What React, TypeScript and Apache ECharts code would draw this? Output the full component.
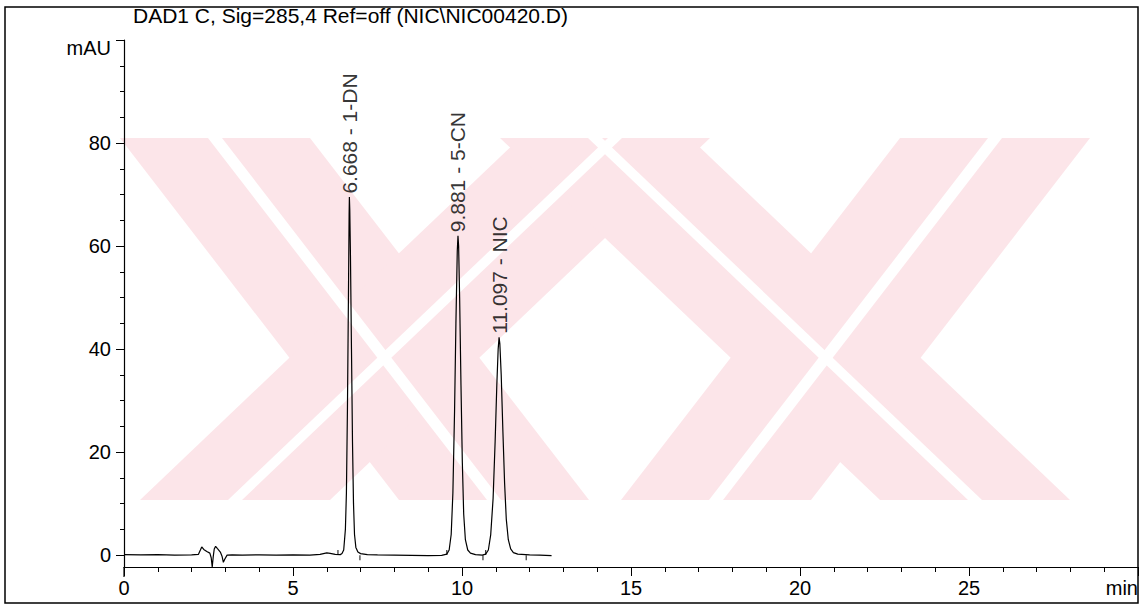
import React, { useEffect, useRef } from "react";
import * as echarts from "echarts";

// ---- data ----
const title = "DAD1 C, Sig=285,4 Ref=off (NIC\\NIC00420.D)";
const yUnit = "mAU";
const xUnit = "min";
const xTickLabels = [0, 5, 10, 15, 20, 25];
const yTickLabels = [0, 20, 40, 60, 80];
const yMinorTicks = [5, 10, 15, 25, 30, 35, 45, 50, 55, 65, 70, 75, 85, 90, 95];

// time (min), absorbance (mAU)
const signal: [number, number][] = [
  [0, 0.1], [0.5, 0.05], [1.0, 0.1], [1.5, 0.0], [2.0, 0.05], [2.2, 0.15],
  [2.26, 1.0], [2.3, 1.6], [2.36, 1.1], [2.45, 0.7], [2.54, 0.4], [2.58, -0.5],
  [2.61, -2.3], [2.64, -0.3], [2.67, 1.2], [2.71, 1.7], [2.76, 1.3], [2.85, 0.6],
  [2.9, -0.2], [2.94, -1.4], [2.98, -0.8], [3.05, 0.0], [3.2, 0.05], [3.5, 0.0],
  [4.0, 0.05], [4.5, 0.0], [5.0, 0.05], [5.5, 0.0], [5.8, 0.15], [6.0, 0.45],
  [6.1, 0.35], [6.25, 0.15], [6.4, 0.1], [6.45, 0.3], [6.5, 1.0], [6.55, 5],
  [6.58, 12], [6.61, 28], [6.64, 50], [6.66, 66], [6.668, 69.5], [6.68, 67],
  [6.7, 58], [6.73, 40], [6.76, 22], [6.79, 10], [6.82, 4], [6.86, 1.5],
  [6.92, 0.6], [7.0, 0.3], [7.2, 0.1], [7.5, 0.05], [8.0, 0.0], [8.5, -0.05],
  [9.0, -0.1], [9.4, -0.05], [9.55, 0.2], [9.62, 1], [9.68, 4], [9.73, 12],
  [9.78, 28], [9.82, 45], [9.86, 59], [9.881, 62], [9.9, 60], [9.93, 50],
  [9.97, 33], [10.01, 18], [10.05, 8], [10.1, 3], [10.17, 1], [10.25, 0.4],
  [10.4, 0.1], [10.6, 0.0], [10.7, 0.2], [10.78, 1], [10.85, 4], [10.92, 11],
  [10.98, 22], [11.03, 33], [11.07, 40], [11.097, 42.3], [11.12, 41], [11.16, 35],
  [11.21, 24], [11.26, 14], [11.31, 7], [11.37, 3], [11.44, 1.2], [11.52, 0.5],
  [11.65, 0.2], [12.0, 0.05], [12.3, 0.0], [12.65, -0.1],
];

const peakTimes = [6.668, 9.881, 11.097];
const peakHeights = [69.5, 62, 42.3];
const peakNames = ["1-DN", "5-CN", "NIC"];

// integration event marks: [time, direction]
const eventTimes = [6.33, 6.98, 9.55, 10.62, 10.7, 11.9];
const eventDirs = [1, -1, 1, -1, 1, -1];

const FONT = "Liberation Sans, Arial, sans-serif";
const PINK = "#fce5e9";
const WM_TOP = 138;
const WM_BOT = 500;

function arm(topA: number, topB: number, botA: number, botB: number) {
  return {
    type: "polygon",
    silent: true,
    shape: { points: [[topA, WM_TOP], [topB, WM_TOP], [botB, WM_BOT], [botA, WM_BOT]] },
    style: { fill: PINK },
  };
}
function stripe(topC: number, botC: number) {
  return {
    type: "polygon",
    silent: true,
    shape: {
      points: [[topC - 7, WM_TOP], [topC + 7, WM_TOP], [botC + 7, WM_BOT], [botC - 7, WM_BOT]],
    },
    style: { fill: "#ffffff" },
  };
}

export default function App() {
  const ref = useRef<HTMLDivElement>(null);
  useEffect(() => {
    if (!ref.current) return;
    const chart = echarts.init(ref.current, null, { renderer: "svg" });
    const yMin = -2.3;
    const yMax = 100;
    chart.setOption({
      animation: false,
      backgroundColor: "#ffffff",
      grid: { left: 124, right: 5, top: 40, bottom: 41 },
      graphic: [
        {
          type: "group",
          z: -10,
          silent: true,
          children: [
            arm(120, 310, 399, 589),
            arm(520, 710, 140, 330),
            arm(500, 690, 880, 1070),
            arm(900, 1090, 621, 811),
            stripe(215, 494),
            stripe(615, 235),
            stripe(595, 975),
            stripe(995, 716),
          ],
        },
        {
          type: "rect",
          z: 100,
          silent: true,
          shape: { x: 5, y: 7, width: 1133, height: 596 },
          style: { fill: "none", stroke: "#000", lineWidth: 1.5 },
        },
        {
          type: "line",
          z: 100,
          silent: true,
          shape: { x1: 124, y1: 567, x2: 124, y2: 577 },
          style: { stroke: "#000", lineWidth: 1.2 },
        },
        {
          type: "text",
          z: 100,
          left: 133,
          top: 5,
          style: { text: title, font: `21px ${FONT}`, fill: "#000" },
        },
      ],
      xAxis: {
        type: "value",
        min: 0,
        max: 30,
        interval: 5,
        axisLine: { show: true, onZero: false, lineStyle: { color: "#000", width: 1.2 } },
        axisTick: { show: true, inside: false, length: 9, lineStyle: { color: "#000" } },
        minorTick: { show: true, splitNumber: 5, length: 5, lineStyle: { color: "#000" } },
        splitLine: { show: false },
        axisLabel: {
          color: "#000",
          fontFamily: FONT,
          fontSize: 20,
          margin: 11,
          alignMaxLabel: "right",
          formatter: (v: number) => (v === 30 ? xUnit : xTickLabels.includes(v) ? String(v) : ""),
        },
      },
      yAxis: [
        {
          type: "value",
          min: yMin,
          max: yMax,
          axisLine: { show: true, onZero: false, lineStyle: { color: "#000", width: 1.2 } },
          axisTick: {
            show: true,
            length: 8,
            customValues: [...yTickLabels, yMax],
            lineStyle: { color: "#000" },
          },
          splitLine: { show: false },
          axisLabel: {
            color: "#000",
            fontFamily: FONT,
            fontSize: 20,
            margin: 13,
            customValues: [...yTickLabels, yMax],
            formatter: (v: number) => (v === yMax ? `{u|${yUnit}}` : String(v)),
            rich: {
              u: { fontFamily: FONT, fontSize: 20, color: "#000", padding: [16, 0, 0, 0] },
            },
          },
        },
        {
          type: "value",
          min: yMin,
          max: yMax,
          position: "left",
          axisLine: { show: false },
          axisTick: {
            show: true,
            length: 4,
            customValues: yMinorTicks,
            lineStyle: { color: "#000" },
          },
          axisLabel: { show: false },
          splitLine: { show: false },
        },
      ],
      series: [
        {
          type: "line",
          data: signal,
          showSymbol: false,
          lineStyle: { color: "#000", width: 1.2 },
          z: 5,
        },
        {
          type: "scatter",
          data: peakTimes.map((t, i) => ({
            value: [t, peakHeights[i]],
            label: {
              show: true,
              formatter: `${t.toFixed(3)} - ${peakNames[i]}`,
            },
          })),
          symbolSize: 1,
          itemStyle: { color: "rgba(0,0,0,0)" },
          label: {
            show: true,
            position: "top",
            distance: 3,
            rotate: 90,
            align: "left",
            verticalAlign: "middle",
            color: "#000",
            fontFamily: FONT,
            fontSize: 21,
          },
          z: 6,
        },
        {
          type: "scatter",
          data: eventTimes.map((t, i) => [t, eventDirs[i] * 0.5]),
          symbol: "rect",
          symbolSize: [1.2, 5],
          itemStyle: { color: "#000" },
          z: 6,
        },
      ],
    });
    return () => chart.dispose();
  }, []);
  return (
    <div
      ref={ref}
      style={{ position: "absolute", left: 0, top: 0, width: 1143, height: 608 }}
    />
  );
}
